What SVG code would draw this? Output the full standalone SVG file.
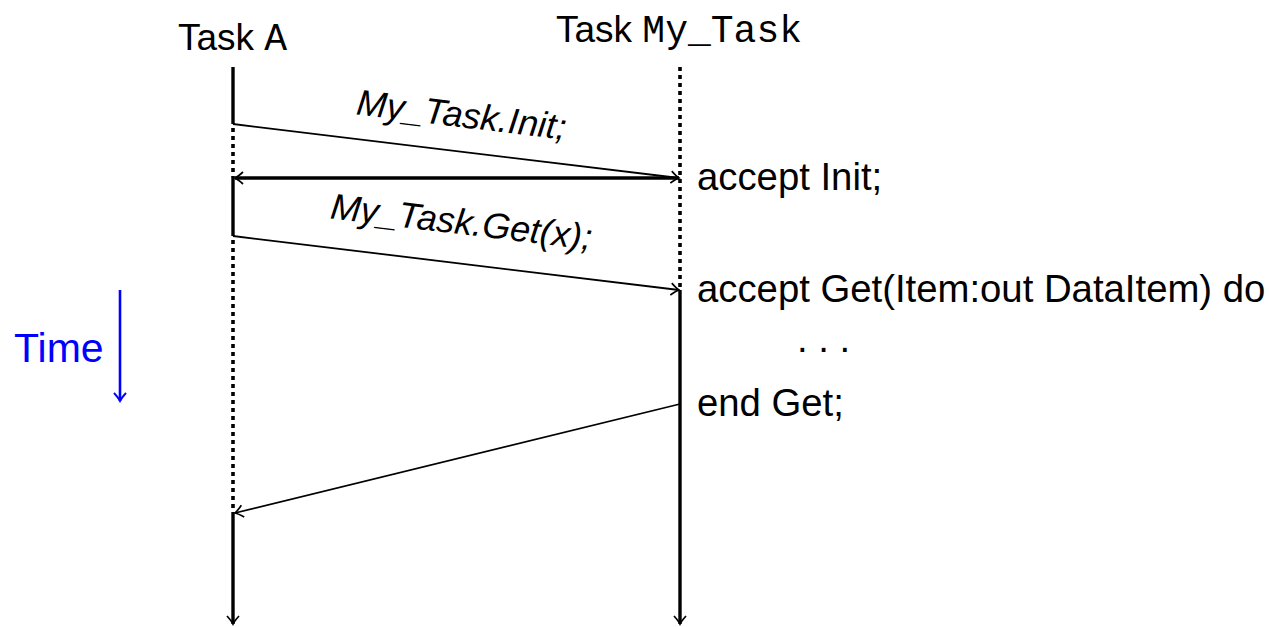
<svg xmlns="http://www.w3.org/2000/svg" width="1269" height="627" viewBox="0 0 1269 627">
  <style>
    .sans { font-family: "Liberation Sans", "DejaVu Sans", sans-serif; fill: #000; }
    .mono { font-family: "Liberation Mono", "DejaVu Sans Mono", monospace; font-size: 38px; }
    .head { font-size: 37px; }
    .code { font-size: 38.3px; }
    .call { font-size: 36px; font-style: italic; }
    .solid { stroke: #000; stroke-width: 3.4; fill: none; }
    .dots { stroke: #000; stroke-width: 3.6; stroke-dasharray: 4 4; fill: none; }
    .msg { stroke: #000; stroke-width: 1.8; fill: none; }
    .bold { stroke: #000; stroke-width: 3.4; fill: none; }
  </style>
  <defs>
    <marker id="tip" viewBox="-10 -8 12 16" markerWidth="12" markerHeight="16" refX="0" refY="0" orient="auto" markerUnits="userSpaceOnUse">
      <path d="M -8 -6 Q -3 -1.5 0 0 Q -3 1.5 -8 6" fill="none" stroke="#000" stroke-width="1.7"/>
    </marker>
    <marker id="tipBlue" viewBox="-10 -8 12 16" markerWidth="12" markerHeight="16" refX="0" refY="0" orient="auto" markerUnits="userSpaceOnUse">
      <path d="M -8 -6 Q -3 -1.5 0 0 Q -3 1.5 -8 6" fill="none" stroke="#0000ff" stroke-width="1.9"/>
    </marker>
  </defs>

  <!-- lifeline of Task A -->
  <g id="taskA">
    <text class="sans head" x="178" y="50">Task <tspan class="mono">A</tspan></text>
    <line class="solid" x1="233" y1="67" x2="233" y2="124"/>
    <line class="dots" x1="233" y1="128" x2="233" y2="178"/>
    <line class="solid" x1="233" y1="178" x2="233" y2="236"/>
    <line class="dots" x1="233" y1="240" x2="233" y2="512"/>
    <line class="solid" x1="233" y1="512" x2="233" y2="624" marker-end="url(#tip)"/>
  </g>

  <!-- lifeline of Task My_Task -->
  <g id="myTask">
    <text class="sans head" x="556" y="42">Task <tspan class="mono">My_Task</tspan></text>
    <line class="dots" x1="680" y1="67" x2="680" y2="290"/>
    <line class="solid" x1="680" y1="290" x2="680" y2="624" marker-end="url(#tip)"/>
    <text class="sans code" x="697" y="190">accept Init;</text>
    <text class="sans code" x="697" y="302">accept Get(Item:out DataItem) do</text>
    <text class="sans code" x="797" y="352">. . .</text>
    <text class="sans code" x="697" y="416">end Get;</text>
  </g>

  <!-- time axis -->
  <g id="time">
    <text class="sans" x="14" y="362" font-size="41" style="fill:#0000ff">Time</text>
    <line x1="120" y1="290" x2="120" y2="401" stroke="#0000ff" stroke-width="2.6" marker-end="url(#tipBlue)"/>
  </g>

  <!-- messages -->
  <g id="connectors">
    <line class="msg" x1="233" y1="124" x2="679" y2="178" marker-end="url(#tip)"/>
    <text class="sans call" x="460" y="127" text-anchor="middle" transform="rotate(6.9 460 127)">My_Task.Init;</text>
    <line class="bold" x1="679" y1="178" x2="235" y2="178" marker-end="url(#tip)"/>
    <line class="msg" x1="233" y1="236" x2="679" y2="290" marker-end="url(#tip)"/>
    <text class="sans call" x="460" y="234" text-anchor="middle" transform="rotate(6.9 460 234)">My_Task.Get(x);</text>
    <line class="msg" x1="680" y1="404" x2="235" y2="513" marker-end="url(#tip)"/>
  </g>
</svg>
